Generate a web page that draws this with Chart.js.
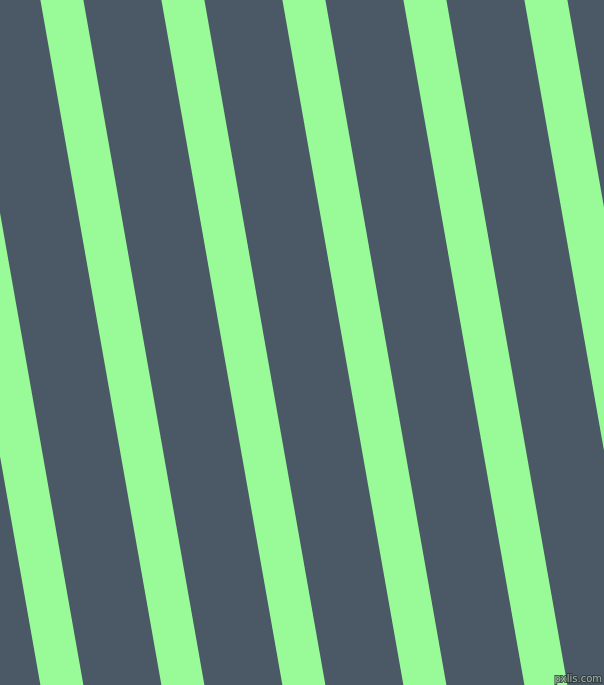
<!DOCTYPE html>
<html>
<head>
<meta charset="utf-8">
<script src="https://cdn.jsdelivr.net/npm/chart.js@4"></script>
<style>
html,body{margin:0;padding:0;background:#4b5865;}
canvas{display:block;}
</style>
</head>
<body>
<canvas id="c" width="604" height="685"></canvas>
<script>
// stripe left-edge x position at the top (y = 0) and at the bottom (y = 685)
const stripeTopX = [-80.6, 40.4, 161.4, 282.4, 403.4, 524.4];
const stripeBottomX = [40.4, 161.4, 282.4, 403.4, 524.4, 645.4];
const stripeWidth = [43, 43, 43, 43, 43, 43];
const yTop = 0, yBottom = 685;

const bg = '#4b5865';
const stripeColor = '#98fb98';

const datasets = stripeTopX.map((tx, i) => {
  const bx = stripeBottomX[i], w = stripeWidth[i];
  return {
    data: [
      {x: tx, y: yTop},
      {x: tx + w, y: yTop},
      {x: bx + w, y: yBottom},
      {x: bx, y: yBottom},
      {x: tx, y: yTop}
    ],
    showLine: true,
    fill: 'shape',
    backgroundColor: stripeColor,
    borderColor: stripeColor,
    borderWidth: 0,
    pointRadius: 0,
    tension: 0
  };
});

const bgPlugin = {
  id: 'bg',
  beforeDraw(chart) {
    const ctx = chart.ctx;
    ctx.save();
    ctx.fillStyle = bg;
    ctx.fillRect(0, 0, chart.width, chart.height);
    ctx.restore();
  },
  afterDraw(chart) {
    const ctx = chart.ctx;
    ctx.save();
    ctx.font = '10px "DejaVu Sans", sans-serif';
    ctx.textAlign = 'right';
    ctx.textBaseline = 'bottom';
    ctx.lineWidth = 2;
    ctx.strokeStyle = 'rgba(40,55,50,0.8)';
    ctx.strokeText('pxlis.com', 602, 684);
    ctx.fillStyle = '#a9b3ad';
    ctx.fillText('pxlis.com', 602, 684);
    ctx.restore();
  }
};

new Chart(document.getElementById('c'), {
  type: 'scatter',
  data: { datasets },
  options: {
    responsive: false,
    animation: false,
    devicePixelRatio: 1,
    layout: { padding: 0 },
    plugins: { legend: { display: false }, tooltip: { enabled: false } },
    scales: {
      x: { type: 'linear', min: 0, max: 604, display: false },
      y: { type: 'linear', min: yTop, max: yBottom, reverse: true, display: false }
    }
  },
  plugins: [bgPlugin]
});
</script>
</body>
</html>
